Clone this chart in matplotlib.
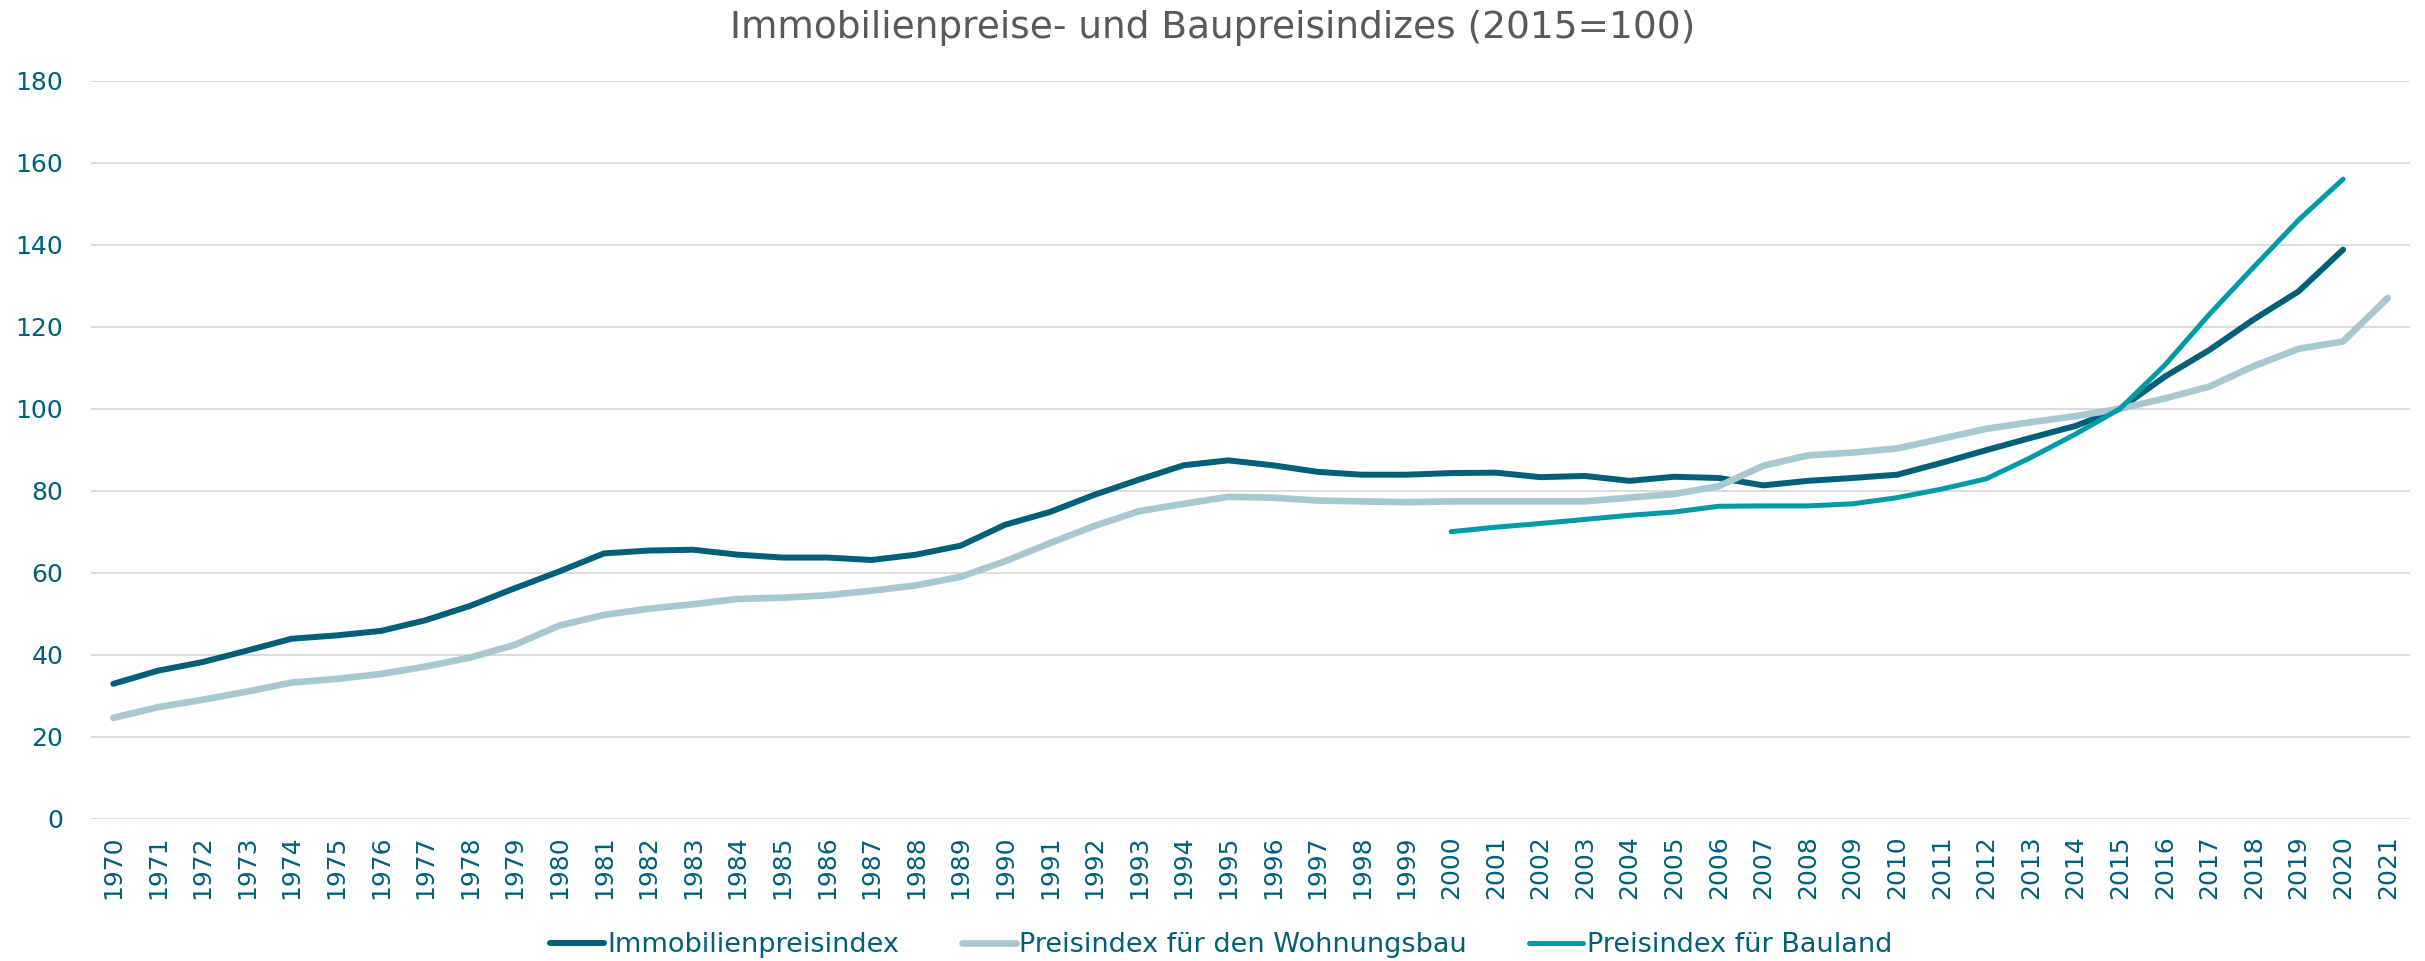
import matplotlib
matplotlib.use("Agg")
import matplotlib.pyplot as plt

years = list(range(1970, 2022))

immobilien = [32.9, 36.1, 38.2, 41.0, 43.9, 44.7, 45.8, 48.4, 51.9, 56.2,
              60.3, 64.7, 65.4, 65.6, 64.4, 63.7, 63.7, 63.1, 64.4, 66.6,
              71.7, 74.8, 79.0, 82.7, 86.2, 87.4, 86.2, 84.6, 83.9, 83.9,
              84.3, 84.4, 83.3, 83.6, 82.4, 83.4, 83.1, 81.3, 82.4, 83.1,
              83.9, 86.8, 89.9, 92.9, 95.8, 100.0, 107.8, 114.3, 121.8, 128.6,
              138.8, None]

wohnungsbau = [24.6, 27.2, 29.0, 31.0, 33.2, 34.1, 35.3, 37.1, 39.3, 42.4,
               47.1, 49.7, 51.2, 52.3, 53.6, 53.9, 54.5, 55.6, 56.9, 59.0,
               62.8, 67.2, 71.4, 75.0, 76.8, 78.5, 78.3, 77.6, 77.4, 77.2,
               77.4, 77.4, 77.4, 77.4, 78.3, 79.2, 81.1, 86.1, 88.6, 89.3,
               90.3, 92.7, 95.1, 96.7, 98.2, 100.0, 102.5, 105.4, 110.4, 114.6,
               116.4, 127.0]

bauland = [None] * 30 + [70.0, 71.1, 72.0, 73.0, 74.0, 74.8, 76.2, 76.3, 76.3, 76.8,
                         78.3, 80.4, 82.9, 88.1, 93.8, 100.0, 110.6, 123.0, 134.6, 146.0,
                         156.0, None]

series_names = ["Immobilienpreisindex", "Preisindex für den Wohnungsbau", "Preisindex für Bauland"]
colors = ["#00607A", "#A7C8D1", "#009BA6"]
widths = [4.3, 4.8, 3.6]
title = "Immobilienpreise- und Baupreisindizes (2015=100)"
yticks = list(range(0, 181, 20))

label_color = "#00607A"

fig = plt.figure(figsize=(24.25, 9.61), dpi=100)
ax = fig.add_axes([91 / 2425, 1 - 818.7 / 961, (2410 - 91) / 2425, (818.7 - 80.7) / 961])

x = list(range(len(years)))
for data, name, c, lw in zip([immobilien, wohnungsbau, bauland], series_names, colors, widths):
    xs = [xi for xi, v in zip(x, data) if v is not None]
    ys = [v for v in data if v is not None]
    ax.plot(xs, ys, color=c, lw=lw, label=name, solid_capstyle="round", solid_joinstyle="round")

ax.set_xlim(-0.5, len(years) - 0.5)
ax.set_ylim(0, 180)
ax.set_yticks(yticks)
ax.set_xticks(x)
ax.set_xticklabels([str(y) for y in years], rotation=90, fontsize=18, color=label_color)
ax.tick_params(axis="x", length=0, pad=12)
ax.tick_params(axis="y", length=0, pad=20, labelsize=18, labelcolor=label_color)
ax.grid(axis="y", color="#D9D9D9", lw=1.3)
ax.set_axisbelow(True)
for s in ax.spines.values():
    s.set_visible(False)

fig.text(0.5, 1 - 28 / 961, title, ha="center", va="center", fontsize=27, color="#595959")

leg = fig.legend(loc="center", bbox_to_anchor=(0.5035, 1 - 945 / 961), ncol=3, frameon=False,
                 fontsize=19.5, handlelength=2.0, handletextpad=0.12, columnspacing=2.3,
                 labelcolor=label_color)

fig.savefig("out.png", dpi=100)
